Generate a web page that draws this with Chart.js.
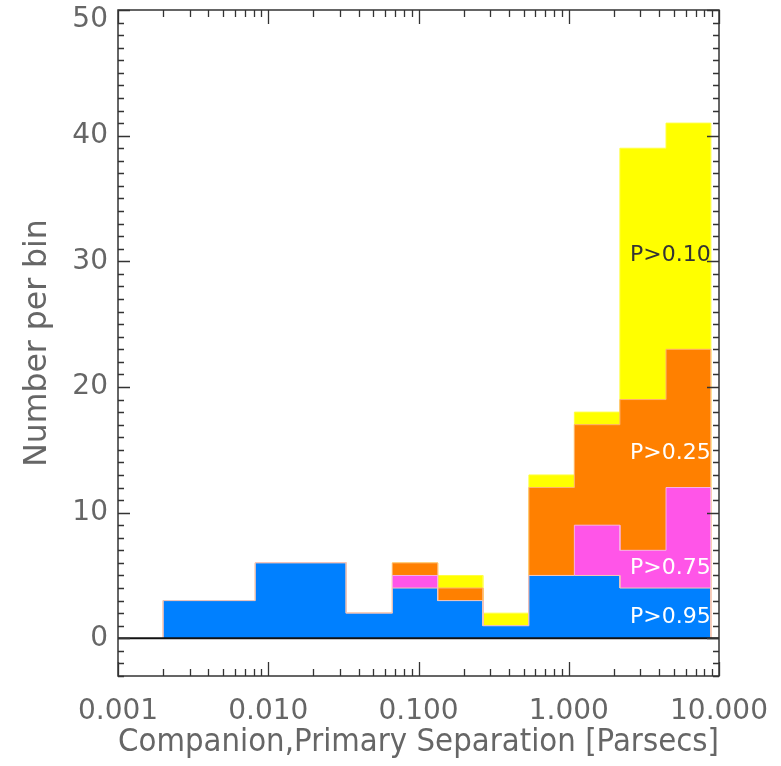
<!DOCTYPE html>
<html>
<head>
<meta charset="utf-8">
<script src="https://cdn.jsdelivr.net/npm/chart.js@4.4.1/dist/chart.umd.min.js"></script>
<style>
  html, body { margin: 0; padding: 0; background: #fff; }
</style>
</head>
<body>
<canvas id="myChart" width="781" height="766"></canvas>
<script>
// bin edges (parsecs) and counts per bin for each probability cut
var binEdges = [0.002, 0.0082, 0.033, 0.067, 0.134, 0.268, 0.543, 1.09, 2.19, 4.44, 8.8];
var countP10 = [3, 6, 2, 6, 5, 2, 13, 18, 39, 41];
var countP25 = [3, 6, 2, 6, 4, 1, 12, 17, 19, 23];
var countP75 = [3, 6, 2, 5, 3, 1, 5, 9, 7, 12];
var countP95 = [3, 6, 2, 4, 3, 1, 5, 5, 4, 4];
var xTickValues = [0.001, 0.01, 0.1, 1, 10];
var yTickValues = [0, 10, 20, 30, 40, 50];
var probLabels = ['P>0.10', 'P>0.25', 'P>0.75', 'P>0.95'];
var probLabelY = [30.5, 14.7, 5.6, 1.7];
var probLabelColor = ['#333', '#fff', '#fff', '#fff'];

var fontFamily = "'DejaVu Sans', sans-serif";
var textColor = '#666';

// outline of a histogram as a closed step line
function stepPoints(counts) {
    var pts = [{x: binEdges[0], y: 0}];
    for (var i = 0; i < counts.length; i++) {
        pts.push({x: binEdges[i], y: counts[i]});
        pts.push({x: binEdges[i + 1], y: counts[i]});
    }
    pts.push({x: binEdges[binEdges.length - 1], y: 0});
    return pts;
}

function histSet(label, counts, fill, edge) {
    return {
        label: label,
        data: stepPoints(counts),
        backgroundColor: fill,
        borderColor: edge,
        borderWidth: 1,
        fill: 'origin',
        pointRadius: 0,
        tension: 0
    };
}

var frameTicks = {
    id: 'frameTicks',
    afterDatasetsDraw: function(chart) {
        var ctx = chart.ctx;
        var a = chart.chartArea;
        var xs = chart.scales.x;
        var ys = chart.scales.y;
        ctx.save();

        // text labels on the bars
        ctx.font = "22px " + fontFamily;
        ctx.textAlign = 'right';
        ctx.textBaseline = 'middle';
        var xr = xs.getPixelForValue(binEdges[binEdges.length - 1]);
        for (var i = 0; i < probLabels.length; i++) {
            ctx.fillStyle = probLabelColor[i];
            ctx.fillText(probLabels[i], xr, ys.getPixelForValue(probLabelY[i]));
        }

        // zero line
        var y0 = ys.getPixelForValue(0);
        ctx.strokeStyle = '#111';
        ctx.lineWidth = 2;
        ctx.beginPath();
        ctx.moveTo(a.left, y0);
        ctx.lineTo(a.right, y0);
        ctx.stroke();

        // frame
        ctx.strokeStyle = '#333';
        ctx.lineWidth = 1.5;
        ctx.strokeRect(a.left, a.top, a.right - a.left, a.bottom - a.top);

        ctx.beginPath();
        ctx.lineWidth = 1.3;
        // y ticks, both sides, inward
        for (var v = -3; v <= 50; v++) {
            var py = Math.round(ys.getPixelForValue(v)) + 0.5;
            var len = v % 10 === 0 ? 12 : 6;
            ctx.moveTo(a.left, py); ctx.lineTo(a.left + len, py);
            ctx.moveTo(a.right, py); ctx.lineTo(a.right - len, py);
        }
        // x ticks, top and bottom, inward
        for (var e = -3; e <= 1; e++) {
            for (var m = 1; m <= 9; m++) {
                if (e === 1 && m > 1) break;
                var px = Math.round(xs.getPixelForValue(m * Math.pow(10, e))) + 0.5;
                var tl = m === 1 ? 14 : 7;
                ctx.moveTo(px, a.bottom); ctx.lineTo(px, a.bottom - tl);
                ctx.moveTo(px, a.top); ctx.lineTo(px, a.top + tl);
            }
        }
        ctx.stroke();
        ctx.restore();
    }
};

var ctx = document.getElementById("myChart").getContext('2d');
var myChart = new Chart(ctx, {
    type: 'line',
    data: {
        datasets: [
            histSet('P>0.95', countP95, '#0080ff', '#f2c8b8'),
            histSet('P>0.75', countP75, '#ff55e8', '#f7b0e8'),
            histSet('P>0.25', countP25, '#ff8000', '#ffb070'),
            histSet('P>0.10', countP10, '#ffff00', '#ffff40')
        ]
    },
    options: {
        responsive: false,
        animation: false,
        devicePixelRatio: 1,
        layout: { padding: { left: 22, right: 62, top: 10, bottom: 3 } },
        plugins: {
            legend: { display: false },
            tooltip: { enabled: false }
        },
        scales: {
            x: {
                type: 'logarithmic',
                min: 0.001,
                max: 10,
                afterBuildTicks: function(scale) {
                    scale.ticks = xTickValues.map(function(v) { return {value: v, major: true}; });
                },
                afterFit: function(scale) {
                    scale.height = 87;
                    scale.paddingLeft = 0;
                    scale.paddingRight = 0;
                },
                ticks: {
                    autoSkip: false,
                    maxRotation: 0,
                    padding: 19,
                    color: textColor,
                    font: { family: fontFamily, size: 28 },
                    callback: function(value) { return Number(value).toFixed(3); }
                },
                grid: { display: false, drawTicks: false },
                border: { display: false },
                title: {
                    display: true,
                    text: 'Companion,Primary Separation [Parsecs]',
                    color: textColor,
                    font: { family: fontFamily, size: 31.5, lineHeight: 1 },
                    padding: { top: 0, bottom: 4 }
                }
            },
            y: {
                type: 'linear',
                min: -3,
                max: 50,
                afterBuildTicks: function(scale) {
                    scale.ticks = yTickValues.map(function(v) { return {value: v}; });
                },
                afterFit: function(scale) {
                    scale.width = 96;
                    scale.paddingTop = 0;
                },
                ticks: {
                    padding: 10,
                    color: textColor,
                    font: function(c) {
                        var top = c.tick && c.tick.value === 50;
                        return { family: fontFamily, size: 28, lineHeight: top ? 0.72 : 1.2 };
                    },
                    // the top label sits a little below its tick, as in the original
                    callback: function(value) { return value === 50 ? ['', '50'] : String(value); }
                },
                grid: { display: false, drawTicks: false },
                border: { display: false },
                title: {
                    display: true,
                    text: 'Number per bin',
                    color: textColor,
                    font: { family: fontFamily, size: 31.5, lineHeight: 1 },
                    padding: { top: 0, bottom: 19 }
                }
            }
        }
    },
    plugins: [frameTicks]
});
</script>
</body>
</html>
